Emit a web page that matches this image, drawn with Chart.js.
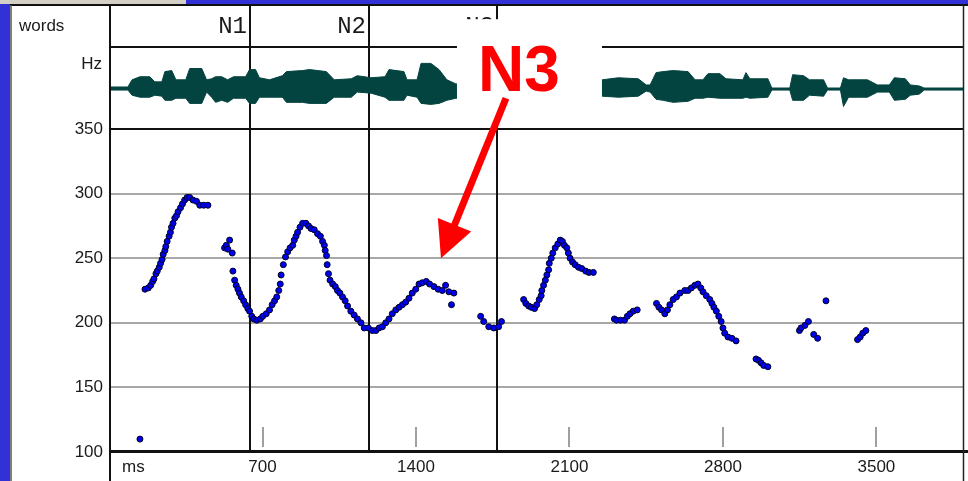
<!DOCTYPE html>
<html>
<head>
<meta charset="utf-8">
<title>Pitch track</title>
<script src="https://cdn.jsdelivr.net/npm/chart.js@4.4.1/dist/chart.umd.min.js"></script>
<style>
  html, body { margin: 0; padding: 0; background: #fff; }
  canvas { display: block; }
</style>
</head>
<body>
<canvas id="pitchChart" width="968" height="481"></canvas>
<script>
// F0 track: time (ms) and pitch (Hz)
const pitchTimes = [
  141,
  164, 179, 190, 199, 205, 214, 220, 229, 235, 242, 247, 255, 259, 265, 274, 280,
  285, 292, 300, 308, 315, 326, 335, 345, 356, 368, 383, 399, 414, 432, 451,
  527, 535, 542, 550, 562, 565, 573, 580, 588, 595, 603, 614, 623, 633, 641, 651,
  660, 674, 690, 701, 717, 732, 744, 755, 765, 774, 781, 785, 795, 805, 815, 826,
  838, 845, 853, 860, 871, 883, 898, 910, 921, 936, 951, 964, 974, 982, 986, 992,
  995, 1001, 1008, 1020, 1032, 1042, 1053, 1065, 1077, 1088, 1103, 1118, 1133, 1149,
  1164, 1183, 1201, 1217, 1232, 1247, 1262, 1277, 1292, 1308, 1323, 1338, 1353, 1368,
  1383, 1399, 1414, 1429, 1447, 1462, 1482, 1501, 1520, 1535, 1550, 1562, 1573,
  1695, 1709, 1732, 1755, 1777, 1790,
  1891, 1901, 1914, 1926, 1941, 1951, 1962, 1971, 1974, 1982, 1990, 1997, 2005, 2008,
  2017, 2024, 2035, 2047, 2058, 2068, 2077, 2088, 2095, 2103, 2114, 2126, 2141, 2156,
  2174, 2189, 2209,
  2305, 2315, 2333, 2351, 2364, 2376, 2391, 2409,
  2497, 2508, 2520, 2535, 2547, 2558, 2573, 2588, 2604, 2626, 2641, 2656, 2672, 2686,
  2699, 2709, 2724, 2740, 2750, 2759, 2770, 2781, 2792, 2800, 2808, 2823, 2841, 2860,
  2951, 2962, 2974, 2986, 3005,
  3149, 3156, 3174, 3190, 3214, 3232, 3270,
  3414, 3426, 3438, 3452
];
const pitchHz = [
  110,
  226, 227, 229, 232, 234, 238, 240, 243, 246, 249, 253, 256, 259, 263, 267, 270,
  274, 277, 281, 283, 286, 289, 292, 295, 297, 297, 295, 294, 291, 291, 291,
  258, 260, 257, 264, 254, 240, 233, 229, 226, 223, 220, 217, 214, 211, 209, 205,
  203, 202, 203, 205, 207, 210, 214, 217, 220, 225, 230, 237, 245, 251, 255, 258,
  260, 264, 267, 270, 274, 277, 277, 275, 273, 272, 269, 267, 263, 260, 256, 252,
  245, 238, 233, 230, 228, 225, 223, 220, 217, 213, 209, 206, 203, 200,
  196, 196, 194, 194, 196, 197, 200, 203, 207, 210, 212, 214, 216, 219,
  223, 226, 230, 231, 232, 230, 228, 226, 225, 229, 224, 214, 223,
  205, 201, 197, 196, 197, 201,
  218, 215, 213, 212, 211, 214, 218, 221, 225, 229, 233, 237, 241, 246,
  250, 254, 258, 261, 264, 263, 260, 258, 254, 250, 247, 245, 243, 242,
  240, 239, 239,
  203, 202, 202, 202, 205, 207, 209, 210,
  215, 212, 210, 207, 210, 214, 218, 220, 223, 225, 225, 227, 229, 230,
  227, 224, 221, 218, 215, 212, 209, 205, 201, 196, 192, 189, 188, 186,
  172, 171, 169, 167, 166,
  194, 196, 198, 201, 191, 188, 217,
  187, 189, 192, 194
];

// waveform amplitude envelope (ms, upper and lower edge)
const waveTimes = [
  9, 86, 105, 141, 186, 209, 241, 255, 286, 305, 350, 368, 423, 445, 468, 486, 514,
  541, 568, 623, 641, 668, 686, 732, 791, 809, 882, 914, 991, 1027, 1105, 1132, 1195,
  1259, 1277, 1345, 1359, 1405, 1423, 1468, 1505, 1541, 1582,
  2250, 2323, 2414, 2450, 2468, 2495, 2527, 2573, 2641, 2673, 2709, 2732, 2786, 2814,
  2891, 2905, 2923, 3005, 3023, 3105, 3118, 3168, 3195, 3259, 3277, 3336, 3350, 3373,
  3459, 3505, 3559, 3582, 3632, 3655, 3695, 3718, 3895
];
const waveTop = [
  1, 1, 8, 11, 11, 6, 6, 16, 17, 8, 8, 19, 19, 8, 9, 11, 11,
  8, 11, 11, 18, 18, 10, 8, 12, 16, 17, 18, 16, 8, 9, 12, 10,
  11, 18, 16, 8, 8, 24, 24, 18, 8, 4,
  8, 10, 9, 3, 3, 15, 16, 17, 16, 8, 8, 14, 14, 9,
  8, 15, 9, 9, 0, 0, 13, 12, 8, 8, 0, 0, 10, 8,
  8, 3, 3, 10, 9, 3, 2, 0, 0
];
const waveBottom = [
  -2, -2, -7, -9, -9, -7, -8, -12, -12, -10, -10, -15, -15, -4, -9, -14, -12,
  -14, -10, -10, -15, -15, -9, -9, -9, -14, -14, -15, -15, -9, -9, -4, -5,
  -9, -12, -12, -7, -9, -15, -16, -15, -12, -10,
  -8, -9, -8, -3, -4, -11, -12, -14, -13, -10, -10, -9, -10, -10,
  -10, -9, -10, -9, -2, -2, -12, -12, -7, -8, -2, -2, -18, -9,
  -9, -4, -4, -12, -11, -7, -6, -2, -2
];

// word tier: labels and their right boundaries (ms)
const wordLabels = ["N1", "N2", "N3"];
const wordEnds = [645, 1186, 1770];

const hzTicks = [100, 150, 200, 250, 300, 350];
const msTicks = [700, 1400, 2100, 2800, 3500];

// callout pointing at the N3 contour
const calloutText = "N3";
const calloutAt = [1514, 250];

const toPoints = (xs, ys) => xs.map((x, i) => ({ x: x, y: ys[i] }));

const labelFont = "17px 'Liberation Sans', Arial, sans-serif";
const ink = "#1a1a1a";
const frameBlue = "#3131d6";
const waveColor = "#044440";

function hline(ctx, x1, x2, y) {
  ctx.beginPath(); ctx.moveTo(x1, y); ctx.lineTo(x2, y); ctx.stroke();
}
function vline(ctx, x, y1, y2) {
  ctx.beginPath(); ctx.moveTo(x, y1); ctx.lineTo(x, y2); ctx.stroke();
}

// keep label overflow from pushing the panels around
function fixBox(size) {
  return s => {
    if (s.isHorizontal()) s.height = size; else s.width = size;
    s.paddingTop = 0; s.paddingBottom = 0;
    s.paddingLeft = 0; s.paddingRight = 0;
  };
}

const frame = {
  id: "frame",
  beforeDraw(chart) {
    const ctx = chart.ctx;
    ctx.save();
    ctx.fillStyle = "#d4d0c8";
    ctx.fillRect(0, 0, 186, 4);
    ctx.fillStyle = frameBlue;
    ctx.fillRect(186, 0, chart.width - 186, 4);
    ctx.fillRect(0, 4, 10, chart.height - 4);
    ctx.restore();
  },
  beforeDatasetsDraw(chart) {
    const { ctx, chartArea: a, scales } = chart;
    const sx = scales.x, words = scales.yWords, hz = scales.y;
    ctx.save();

    // small time ticks inside the pitch panel
    ctx.strokeStyle = "#a0a0a0";
    ctx.lineWidth = 2;
    msTicks.forEach(v => {
      const px = Math.round(sx.getPixelForValue(v));
      vline(ctx, px, hz.bottom - 25, hz.bottom - 5);
    });

    // panel borders
    ctx.strokeStyle = "#111";
    ctx.lineWidth = 2;
    hline(ctx, 10, chart.width, a.top);
    hline(ctx, a.left, a.right, words.bottom);
    hline(ctx, a.left, a.right, hz.top);
    ctx.lineWidth = 3;
    hline(ctx, a.left - 2, chart.width, hz.bottom - 0.5);
    ctx.lineWidth = 2;
    vline(ctx, a.left - 1, a.top, chart.height);
    ctx.strokeStyle = "#555";
    ctx.lineWidth = 1.5;
    vline(ctx, 11, a.top, chart.height);
    ctx.strokeStyle = "#222";
    vline(ctx, a.right + 0.5, a.top, chart.height);

    // word boundaries and labels
    ctx.strokeStyle = "#111";
    ctx.lineWidth = 2;
    ctx.fillStyle = ink;
    ctx.font = "24px 'Liberation Mono', 'Courier New', monospace";
    ctx.textAlign = "right";
    ctx.textBaseline = "middle";
    wordEnds.forEach((t, i) => {
      const px = Math.round(sx.getPixelForValue(t));
      vline(ctx, px, a.top, hz.bottom);
      ctx.fillText(wordLabels[i], px - 3, (words.top + words.bottom) / 2 + 1);
    });

    // tier names and units
    ctx.font = labelFont;
    ctx.textAlign = "left";
    ctx.fillText("words", 19, (words.top + words.bottom) / 2);
    ctx.textAlign = "right";
    ctx.fillText("Hz", 102, scales.yWave.top + 17);
    ctx.textAlign = "left";
    ctx.fillText("ms", 122, sx.top + 15);
    ctx.restore();
  }
};

const callout = {
  id: "callout",
  afterDraw(chart) {
    const { ctx, scales } = chart;
    const tipX = scales.x.getPixelForValue(calloutAt[0]);
    const tipY = scales.y.getPixelForValue(calloutAt[1]);
    ctx.save();

    ctx.fillStyle = "#fff";
    ctx.fillRect(tipX + 16, tipY - 239, 145, 104);

    ctx.fillStyle = "#ff0000";
    ctx.font = "bold 64px 'Liberation Sans', Arial, sans-serif";
    ctx.textAlign = "center";
    ctx.textBaseline = "alphabetic";
    ctx.fillText(calloutText, tipX + 78, tipY - 167);

    // arrow from the label down to the contour
    const tailX = tipX + 65, tailY = tipY - 160;
    const dx = tipX - tailX, dy = tipY - tailY;
    const len = Math.hypot(dx, dy);
    const ux = dx / len, uy = dy / len;
    const headLen = 36, headHalf = 18;
    const bx = tipX - ux * headLen, by = tipY - uy * headLen;

    ctx.strokeStyle = "#ff0000";
    ctx.lineWidth = 7;
    ctx.beginPath();
    ctx.moveTo(tailX, tailY);
    ctx.lineTo(bx + ux * 2, by + uy * 2);
    ctx.stroke();

    ctx.beginPath();
    ctx.moveTo(tipX, tipY);
    ctx.lineTo(bx - uy * headHalf, by + ux * headHalf);
    ctx.lineTo(bx + uy * headHalf, by - ux * headHalf);
    ctx.closePath();
    ctx.fill();
    ctx.restore();
  }
};

const tickFont = { family: "'Liberation Sans', Arial, sans-serif", size: 17 };

new Chart(document.getElementById("pitchChart"), {
  type: "scatter",
  data: {
    datasets: [
      {
        label: "F0",
        data: toPoints(pitchTimes, pitchHz),
        yAxisID: "y",
        pointRadius: 3,
        pointBackgroundColor: "#0000f0",
        pointBorderColor: "#000022",
        pointBorderWidth: 1
      },
      {
        type: "line",
        label: "envelope top",
        data: toPoints(waveTimes, waveTop),
        yAxisID: "yWave",
        borderColor: waveColor,
        backgroundColor: waveColor,
        borderWidth: 1,
        pointRadius: 0,
        fill: "+1"
      },
      {
        type: "line",
        label: "envelope bottom",
        data: toPoints(waveTimes, waveBottom),
        yAxisID: "yWave",
        borderColor: waveColor,
        borderWidth: 1,
        pointRadius: 0,
        fill: false
      }
    ]
  },
  options: {
    responsive: false,
    animation: false,
    events: [],
    layout: { padding: { left: 10, top: 5, right: 2, bottom: 0 } },
    plugins: {
      legend: { display: false },
      tooltip: { enabled: false }
    },
    scales: {
      x: {
        type: "linear",
        min: 9,
        max: 3895,
        afterBuildTicks: s => { s.ticks = msTicks.map(v => ({ value: v })); },
        grid: { display: false, drawTicks: false },
        border: { display: false },
        ticks: { padding: 5, color: ink, font: tickFont, maxRotation: 0, autoSkip: false, callback: v => String(v) },
        afterFit: fixBox(29)
      },
      y: {
        type: "linear",
        position: "left",
        stack: "rows",
        stackWeight: 323,
        weight: 1,
        min: 100,
        max: 350,
        afterBuildTicks: s => { s.ticks = hzTicks.map(v => ({ value: v })); },
        grid: {
          drawTicks: false,
          lineWidth: 2,
          color: c => (c.tick && (c.tick.value === 100 || c.tick.value === 350)) ? "rgba(0,0,0,0)" : "#a8a8a8"
        },
        border: { display: false },
        ticks: { padding: 8, color: ink, font: tickFont, callback: v => String(v) },
        afterFit: fixBox(101)
      },
      yWave: {
        type: "linear",
        position: "left",
        stack: "rows",
        stackWeight: 82,
        weight: 2,
        min: -40,
        max: 40,
        grid: { display: false, drawTicks: false },
        border: { display: false },
        ticks: { display: false },
        afterFit: fixBox(101)
      },
      yWords: {
        type: "linear",
        position: "left",
        stack: "rows",
        stackWeight: 42,
        weight: 3,
        min: 0,
        max: 1,
        grid: { display: false, drawTicks: false },
        border: { display: false },
        ticks: { display: false },
        afterFit: fixBox(101)
      }
    }
  },
  plugins: [frame, callout]
});
</script>
</body>
</html>
